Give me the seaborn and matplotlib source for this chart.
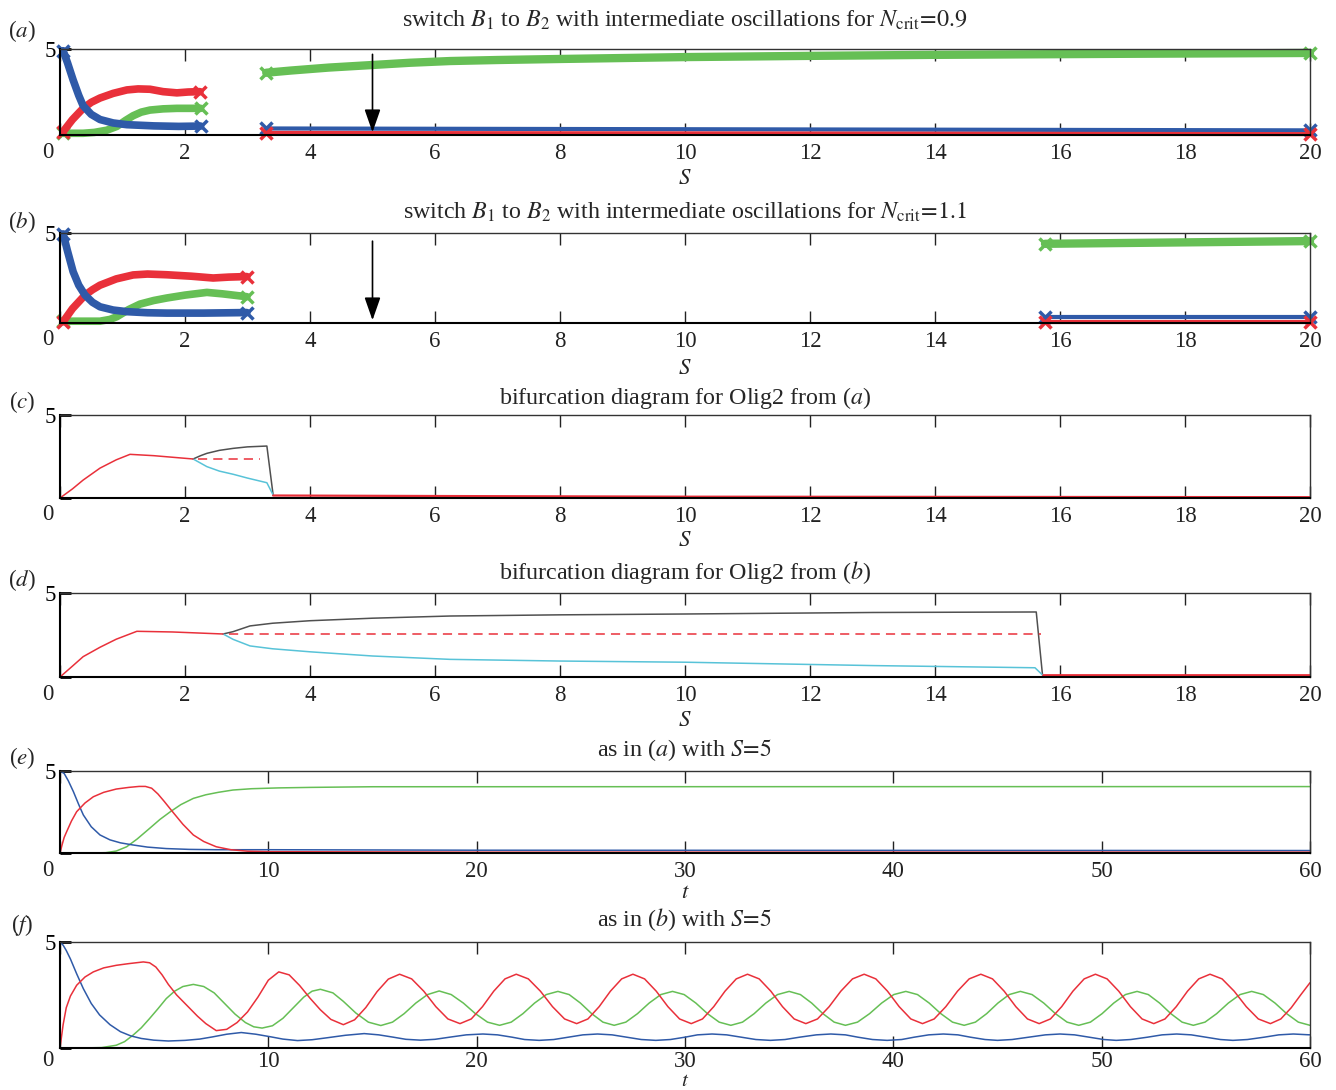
import numpy as np
import seaborn as sns
import matplotlib.pyplot as plt

sns.set_theme(style='white')
plt.rcParams['font.family'] = ['Liberation Serif', 'DejaVu Serif']
plt.rcParams['mathtext.fontset'] = 'stix'

RED = '#e9303a'
GREEN = '#66bf55'
BLUE = '#2f5aa8'
CYAN = '#58c3d8'
GRAY = '#505050'

# ---- panel (a): S-sweep, Ncrit = 0.9 ----
a_s_blue1 = [0.05, 0.12, 0.21, 0.3, 0.37, 0.5, 0.64, 0.85, 1.07, 1.5, 1.9, 2.25]
a_blue1 = [4.9, 4.2, 3.2, 2.3, 1.7, 1.2, 0.9, 0.7, 0.6, 0.53, 0.5, 0.52]
a_s_red1 = [0.05, 0.2, 0.37, 0.5, 0.64, 0.85, 1.07, 1.25, 1.44, 1.65, 1.87, 2.05, 2.24]
a_red1 = [0.2, 0.9, 1.55, 1.9, 2.15, 2.42, 2.62, 2.68, 2.66, 2.52, 2.45, 2.5, 2.52]
a_s_green1 = [0.05, 0.37, 0.55, 0.75, 0.91, 1.05, 1.17, 1.3, 1.44, 1.65, 1.87, 2.25]
a_green1 = [0.1, 0.1, 0.15, 0.28, 0.5, 0.85, 1.12, 1.33, 1.45, 1.52, 1.55, 1.55]
a_s_green2 = [3.3, 3.7, 4.3, 5.0, 5.6, 6.24, 7.0, 8.0, 10.0, 12.0, 14.0, 17.0, 20.0]
a_green2 = [3.62, 3.75, 3.92, 4.07, 4.2, 4.3, 4.36, 4.42, 4.53, 4.6, 4.66, 4.72, 4.77]
a_s_low2 = [3.3, 20.0]
a_blue2 = [0.38, 0.27]
a_red2 = [0.12, 0.05]

# ---- panel (b): S-sweep, Ncrit = 1.1 ----
b_s_blue1 = [0.05, 0.12, 0.21, 0.3, 0.4, 0.52, 0.64, 0.85, 1.07, 1.4, 1.71, 2.3, 2.99]
b_blue1 = [4.95, 4.0, 2.85, 2.1, 1.55, 1.15, 0.9, 0.72, 0.63, 0.57, 0.55, 0.55, 0.58]
b_s_red1 = [0.05, 0.2, 0.4, 0.52, 0.64, 0.9, 1.17, 1.4, 1.71, 2.1, 2.45, 2.7, 2.99]
b_red1 = [0.07, 0.8, 1.55, 1.85, 2.1, 2.45, 2.67, 2.72, 2.68, 2.6, 2.5, 2.55, 2.58]
b_s_green1 = [0.05, 0.64, 0.8, 0.91, 1.1, 1.28, 1.5, 1.71, 2.0, 2.35, 2.6, 2.99]
b_green1 = [0.1, 0.1, 0.2, 0.35, 0.75, 1.05, 1.25, 1.39, 1.55, 1.7, 1.62, 1.46]
b_s_2 = [15.76, 20.0]
b_green2 = [4.4, 4.55]
b_blue2 = [0.33, 0.33]
b_red2 = [0.06, 0.06]

# ---- panel (c): bifurcation diagram from (a) ----
c_s_red = [0.0, 0.2, 0.37, 0.64, 0.9, 1.12, 1.5, 2.13]
c_red = [0.0, 0.55, 1.08, 1.8, 2.3, 2.63, 2.55, 2.35]
c_s_dash = [2.2, 3.2]
c_dash = [2.35, 2.35]
c_s_gray = [2.13, 2.25, 2.35, 2.55, 2.77, 3.0, 3.31, 3.41]
c_gray = [2.35, 2.55, 2.69, 2.87, 2.99, 3.08, 3.13, 0.18]
c_s_cyan = [2.13, 2.25, 2.35, 2.55, 2.77, 3.0, 3.31, 3.41]
c_cyan = [2.35, 2.1, 1.89, 1.62, 1.43, 1.2, 0.92, 0.18]
c_s_red2 = [3.41, 6.0, 10.0, 20.0]
c_red2 = [0.15, 0.12, 0.08, 0.05]

# ---- panel (d): bifurcation diagram from (b) ----
d_s_red = [0.0, 0.2, 0.37, 0.64, 0.9, 1.23, 1.8, 2.61]
d_red = [0.0, 0.65, 1.21, 1.77, 2.25, 2.72, 2.68, 2.56]
d_s_dash = [2.7, 15.7]
d_dash = [2.56, 2.56]
d_s_gray = [2.61, 2.77, 3.04, 3.4, 4.0, 5.0, 6.24, 8.0, 10.0, 13.0, 15.62, 15.72]
d_gray = [2.56, 2.7, 3.04, 3.2, 3.35, 3.5, 3.63, 3.7, 3.75, 3.84, 3.87, 0.12]
d_s_cyan = [2.61, 2.77, 3.04, 3.4, 4.0, 5.0, 6.24, 8.0, 10.0, 13.0, 15.6, 15.72]
d_cyan = [2.56, 2.24, 1.85, 1.68, 1.5, 1.25, 1.05, 0.95, 0.88, 0.68, 0.55, 0.12]
d_s_red2 = [15.72, 20.0]
d_red2 = [0.1, 0.1]

# ---- panel (e): time course, S = 5, as in (a) ----
e_t_blue = [0, 0.2, 0.4, 0.64, 0.9, 1.12, 1.5, 1.92, 2.4, 2.9, 3.5, 4.2, 5.1, 6.2, 7.5, 10, 20, 60]
e_blue = [5, 4.85, 4.4, 3.75, 2.95, 2.32, 1.6, 1.1, 0.8, 0.62, 0.49, 0.36, 0.27, 0.22, 0.2, 0.2, 0.17, 0.15]
e_t_red = [0, 0.1, 0.2, 0.32, 0.55, 0.8, 1.2, 1.6, 2.1, 2.7, 3.3, 3.8, 4.1, 4.4, 4.7, 5.0, 5.4,
           5.9, 6.4, 6.9, 7.5, 8.2, 9.0, 10, 20, 60]
e_red = [0, 0.5, 0.95, 1.3, 1.95, 2.52, 3.05, 3.43, 3.7, 3.9, 4.0, 4.06, 4.06, 3.95, 3.6, 3.15, 2.52,
         1.75, 1.1, 0.7, 0.38, 0.2, 0.11, 0.08, 0.05, 0.05]
e_t_green = [0, 1.5, 2.2, 2.7, 3.2, 3.7, 4.3, 4.8, 5.3, 5.8, 6.4, 7.0, 7.6, 8.3, 9.2, 10.5, 12, 15, 60]
e_green = [0, 0, 0.02, 0.12, 0.38, 0.85, 1.5, 2.05, 2.52, 2.95, 3.33, 3.55, 3.7, 3.84, 3.92, 3.97,
           4.0, 4.04, 4.05]

# ---- panel (f): time course, S = 5, as in (b) ----
f_t_red = [0, 0.15, 0.3, 0.5, 0.8, 1.2, 1.6, 2.1, 2.7, 3.3, 4.0, 4.3, 4.6, 4.9, 5.2, 5.6, 6.1, 6.6,
           7.0, 7.5, 8.0, 8.5, 9.0, 9.5, 10.0, 10.5, 11.0, 11.5, 12.0, 12.5, 13.0, 13.6,
           14.14, 14.68, 15.22, 15.76, 16.3, 16.88, 17.46, 18.04, 18.62, 19.2,
           19.74, 20.28, 20.82, 21.36, 21.9, 22.48, 23.06, 23.64, 24.22, 24.8,
           25.34, 25.88, 26.42, 26.96, 27.5, 28.06, 28.62, 29.18, 29.74, 30.3,
           30.84, 31.38, 31.92, 32.46, 33.0, 33.56, 34.12, 34.68, 35.24, 35.8,
           36.36, 36.92, 37.48, 38.04, 38.6, 39.16, 39.72, 40.28, 40.84, 41.4,
           41.96, 42.52, 43.08, 43.64, 44.2, 44.76, 45.32, 45.88, 46.44, 47.0,
           47.54, 48.08, 48.62, 49.16, 49.7, 50.26, 50.82, 51.38, 51.94, 52.5,
           53.04, 53.58, 54.12, 54.66, 55.2, 55.78, 56.36, 56.94, 57.52, 58.1,
           58.6, 59.1, 59.55, 60.0]
f_red = [0, 1.1, 1.9, 2.45, 2.96, 3.35, 3.59, 3.78, 3.9, 3.98, 4.06, 4.02, 3.82, 3.45, 3.0, 2.5, 2.0, 1.5,
         1.15, 0.82, 0.88, 1.2, 1.7, 2.4, 3.2, 3.59, 3.45, 2.95, 2.35, 1.8, 1.35, 1.1,
         1.33, 1.91, 2.66, 3.25, 3.48, 3.26, 2.68, 1.95, 1.37, 1.15,
         1.37, 1.95, 2.68, 3.26, 3.48, 3.26, 2.68, 1.95, 1.37, 1.15,
         1.37, 1.95, 2.68, 3.26, 3.48, 3.26, 2.68, 1.95, 1.37, 1.15,
         1.37, 1.95, 2.68, 3.26, 3.48, 3.26, 2.68, 1.95, 1.37, 1.15,
         1.37, 1.95, 2.68, 3.26, 3.48, 3.26, 2.68, 1.95, 1.37, 1.15,
         1.37, 1.95, 2.68, 3.26, 3.48, 3.26, 2.68, 1.95, 1.37, 1.15,
         1.37, 1.95, 2.68, 3.26, 3.48, 3.26, 2.68, 1.95, 1.37, 1.15,
         1.37, 1.95, 2.68, 3.26, 3.48, 3.26, 2.68, 1.95, 1.37, 1.15,
         1.37, 1.9, 2.5, 3.08]
f_t_green = [0, 1.0, 2.0, 2.7, 3.1, 3.5, 3.9, 4.3, 4.7, 5.1, 5.5, 5.9, 6.4, 6.9, 7.4, 7.9, 8.4, 8.9,
             9.3, 9.7, 10.2, 10.7, 11.2, 11.7, 12.1, 12.5, 13.1, 13.6, 14.2, 14.8, 15.4,
             15.96, 16.52, 17.08, 17.64, 18.2, 18.78, 19.36, 19.94, 20.52, 21.1,
             21.66, 22.22, 22.78, 23.34, 23.9, 24.44, 24.98, 25.52, 26.06, 26.6,
             27.16, 27.72, 28.28, 28.84, 29.4, 29.96, 30.52, 31.08, 31.64, 32.2,
             32.76, 33.32, 33.88, 34.44, 35.0, 35.54, 36.08, 36.62, 37.16, 37.7,
             38.28, 38.86, 39.44, 40.02, 40.6, 41.16, 41.72, 42.28, 42.84, 43.4,
             43.94, 44.48, 45.02, 45.56, 46.1, 46.66, 47.22, 47.78, 48.34, 48.9,
             49.46, 50.02, 50.58, 51.14, 51.7, 52.24, 52.78, 53.32, 53.86, 54.4,
             54.96, 55.52, 56.08, 56.64, 57.2, 57.76, 58.32, 58.88, 59.44, 60.0]
f_green = [0, 0, 0.02, 0.13, 0.3, 0.6, 0.95, 1.39, 1.85, 2.33, 2.68, 2.9, 3.0, 2.9, 2.6, 2.1, 1.6, 1.2,
           1.0, 0.94, 1.05, 1.4, 1.9, 2.4, 2.68, 2.77, 2.6, 2.2, 1.65, 1.22, 1.06,
           1.22, 1.62, 2.12, 2.52, 2.69, 2.52, 2.12, 1.62, 1.22, 1.07,
           1.22, 1.62, 2.12, 2.52, 2.67, 2.52, 2.12, 1.62, 1.22, 1.07,
           1.22, 1.62, 2.12, 2.52, 2.67, 2.52, 2.12, 1.62, 1.22, 1.07,
           1.22, 1.62, 2.12, 2.52, 2.67, 2.52, 2.12, 1.62, 1.22, 1.07,
           1.22, 1.62, 2.12, 2.52, 2.67, 2.52, 2.12, 1.62, 1.22, 1.07,
           1.22, 1.62, 2.12, 2.52, 2.67, 2.52, 2.12, 1.62, 1.22, 1.07,
           1.22, 1.62, 2.12, 2.52, 2.67, 2.52, 2.12, 1.62, 1.22, 1.07,
           1.22, 1.62, 2.12, 2.52, 2.67, 2.52, 2.12, 1.62, 1.22, 1.07]
f_t_blue = [0, 0.15, 0.3, 0.5, 0.8, 1.12, 1.5, 1.9, 2.4, 2.9, 3.4, 3.9, 4.5, 5.2, 6.0, 6.7, 7.3, 8.0,
            8.7, 9.4, 10.1, 10.7, 11.4, 12.1, 12.8, 13.7, 14.6, 15.3, 16.0, 16.6, 17.3,
            18.0, 18.7, 19.5, 20.3, 21.0, 21.7, 22.3, 23.0, 23.7, 24.4, 25.1, 25.8,
            26.5, 27.2, 27.9, 28.6, 29.3, 30.0, 30.6, 31.3, 32.0, 32.7, 33.4, 34.1,
            34.8, 35.5, 36.3, 37.0, 37.7, 38.3, 39.0, 39.7, 40.4, 41.0, 41.7, 42.4,
            43.1, 43.7, 44.4, 45.0, 45.7, 46.5, 47.3, 48.0, 48.7, 49.4, 50.1, 50.7,
            51.4, 52.2, 52.9, 53.6, 54.3, 55.0, 55.7, 56.3, 57.0, 57.8, 58.5, 59.2, 60.0]
f_blue = [5, 4.85, 4.6, 4.2, 3.5, 2.8, 2.1, 1.56, 1.1, 0.77, 0.57, 0.45, 0.37, 0.33, 0.36, 0.42, 0.52, 0.65,
          0.73, 0.65, 0.53, 0.42, 0.35, 0.39, 0.48, 0.6, 0.68, 0.62, 0.51, 0.41, 0.37,
          0.41, 0.51, 0.62, 0.66, 0.62, 0.51, 0.40, 0.36, 0.40, 0.51, 0.62, 0.66,
          0.62, 0.51, 0.40, 0.36, 0.40, 0.51, 0.62, 0.66, 0.62, 0.51, 0.40, 0.36,
          0.40, 0.51, 0.62, 0.66, 0.62, 0.51, 0.40, 0.36, 0.40, 0.51, 0.62, 0.66,
          0.62, 0.51, 0.40, 0.36, 0.40, 0.51, 0.62, 0.66, 0.62, 0.51, 0.40, 0.36,
          0.40, 0.51, 0.62, 0.66, 0.62, 0.51, 0.40, 0.36, 0.40, 0.51, 0.62, 0.66, 0.62]

titles = [r"switch $B_1$ to $B_2$ with intermediate oscillations for $N_{\mathrm{crit}}\!=\!0.9$",
          r"switch $B_1$ to $B_2$ with intermediate oscillations for $N_{\mathrm{crit}}\!=\!1.1$",
          r"bifurcation diagram for Olig2 from ($a$)",
          r"bifurcation diagram for Olig2 from ($b$)",
          r"as in ($a$) with $S\!=\!5$",
          r"as in ($b$) with $S\!=\!5$"]
letters = ['a', 'b', 'c', 'd', 'e', 'f']

W, H = 1336, 1090
fig = plt.figure(figsize=(W / 100, H / 100), dpi=100)

# axes box in pixels: top, bottom ; title y ; letter y ; xlabel y ; tick pad
boxes = [(49, 135, 20, 31, 178, 5.5), (233, 323, 212, 222, 368, 5.5), (415, 498, 398, 402, 541, 5.5),
         (593, 677, 573, 580, 721, 5.5), (771, 853, 750, 758, 893, 5.5), (942, 1048, 920, 925, 1082, 2.5)]
left, right = 60, 1310
FS = 16.5

axes = []
for i, (top, bot, ty, ly, xy, pad) in enumerate(boxes):
    ax = fig.add_axes([left / W, 1 - bot / H, (right - left) / W, (bot - top) / H])
    xmax, step = (20, 2) if i < 4 else (60, 10)
    ax.set_xlim(0, xmax)
    ax.set_ylim(0, 5)
    ticks = np.arange(0, xmax + 1, step)
    ax.set_xticks(ticks)
    ax.set_xticklabels([''] + [str(int(v)) for v in ticks[1:]])
    ax.set_yticks([0, 5])
    ax.set_yticklabels(['', '5'])
    ax.tick_params(axis='x', direction='in', length=8.5, width=1, top=True, bottom=True,
                   colors='#222222', labelcolor='#222222', labelsize=FS, pad=pad)
    ax.tick_params(axis='y', direction='in', length=8, width=2, left=True, right=False,
                   colors='black', labelsize=FS, pad=3)
    for side in ['left', 'bottom']:
        ax.spines[side].set_linewidth(1.5)
        ax.spines[side].set_color('black')
    for side in ['top', 'right']:
        ax.spines[side].set_linewidth(1.0)
        ax.spines[side].set_color('#333333')
    ax.annotate('0', xy=(0, 0), xycoords='axes fraction', xytext=(-12, -17 + (5.5 - pad) * 1.4),
                textcoords='offset pixels', ha='center', va='center', fontsize=FS, color='#222222')
    fig.text((left + right) / 2 / W, 1 - ty / H, titles[i], ha='center', va='center', fontsize=17.3)
    fig.text(22 / W, 1 - ly / H, '($' + letters[i] + '$)', ha='center', va='center', fontsize=FS)
    fig.text(685 / W, 1 - xy / H, r'$S$' if i < 4 else r'$t$', ha='center', va='center',
             fontsize=FS if i < 5 else 15)
    axes.append(ax)


def thick(ax, x, y, color, lw=5.5):
    sns.lineplot(x=x, y=y, ax=ax, color=color, lw=lw, marker='x', markersize=8,
                 markeredgewidth=2.5, markeredgecolor=color, markevery=[0, len(x) - 1],
                 sort=False, clip_on=False)


def thin(ax, x, y, color, lw=1.1, ls='-'):
    sns.lineplot(x=x, y=y, ax=ax, color=color, lw=lw, ls=ls, sort=False)


arrow = dict(arrowstyle='-|>,head_length=1.0,head_width=0.35', color='black', lw=1.2,
             mutation_scale=14)

# (a)
ax = axes[0]
thick(ax, a_s_green1, a_green1, GREEN)
thick(ax, a_s_red1, a_red1, RED)
thick(ax, a_s_blue1, a_blue1, BLUE)
thick(ax, a_s_green2, a_green2, GREEN, lw=6)
thick(ax, a_s_low2, a_blue2, BLUE, lw=3)
thick(ax, a_s_low2, a_red2, RED, lw=3)
ax.annotate('', xy=(5, 0), xytext=(5, 4.85), arrowprops=arrow)

# (b)
ax = axes[1]
thick(ax, b_s_green1, b_green1, GREEN)
thick(ax, b_s_red1, b_red1, RED)
thick(ax, b_s_blue1, b_blue1, BLUE)
thick(ax, b_s_2, b_green2, GREEN, lw=6)
thick(ax, b_s_2, b_blue2, BLUE, lw=3)
thick(ax, b_s_2, b_red2, RED, lw=3)
ax.annotate('', xy=(5, 0), xytext=(5, 4.7), arrowprops=arrow)

# (c)
ax = axes[2]
thin(ax, c_s_gray, c_gray, GRAY)
thin(ax, c_s_cyan, c_cyan, CYAN)
thin(ax, c_s_red, c_red, RED)
thin(ax, c_s_dash, c_dash, RED, ls=(0, (6, 4)))
thin(ax, c_s_red2, c_red2, RED, lw=1.6)

# (d)
ax = axes[3]
thin(ax, d_s_gray, d_gray, GRAY)
thin(ax, d_s_cyan, d_cyan, CYAN)
thin(ax, d_s_red, d_red, RED)
thin(ax, d_s_dash, d_dash, RED, ls=(0, (6, 4)))
thin(ax, d_s_red2, d_red2, RED, lw=2.0)

# (e)
ax = axes[4]
thin(ax, e_t_green, e_green, GREEN)
thin(ax, e_t_blue, e_blue, BLUE)
thin(ax, e_t_red, e_red, RED)

# (f)
ax = axes[5]
thin(ax, f_t_green, f_green, GREEN)
thin(ax, f_t_blue, f_blue, BLUE)
thin(ax, f_t_red, f_red, RED)

for ax in axes:
    ax.set_xlabel('')
    ax.set_ylabel('')
    if ax.get_legend() is not None:
        ax.get_legend().remove()

fig.savefig('out.png', dpi=100)
